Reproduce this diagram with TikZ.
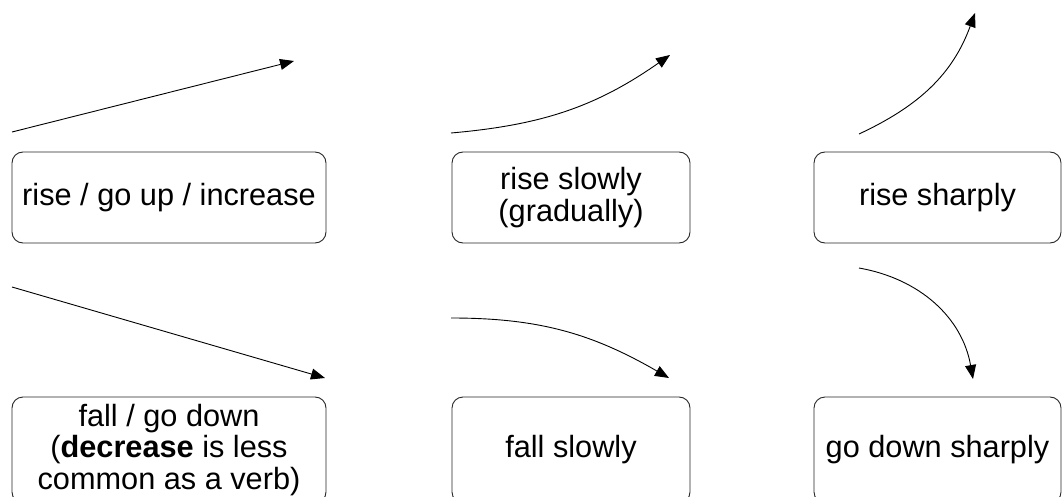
\documentclass[tikz,border=0pt]{standalone}
\usepackage{fontspec}
\setmainfont{Liberation Sans}
\usetikzlibrary{arrows.meta}
\begin{document}
\begin{tikzpicture}[x=1pt,y=-1pt,
  box/.style={draw=black!85, line width=0.9pt, rounded corners=11pt, inner sep=0pt,
    minimum height=#1, align=center, font=\fontsize{30.7}{31.5}\selectfont},
  trend/.style={line width=0.9pt, -{Triangle[length=14pt,width=11pt]}}]
\useasboundingbox (0,0) rectangle (1062,497);
% boxes, top row
\node[box=91pt, minimum width=314pt] (b1) at (169,197.5) {rise / go up / increase};
\node[box=91pt, minimum width=238pt] (b2) at (571,197.5) {rise slowly\\(gradually)};
\node[box=91pt, minimum width=247pt] (b3) at (937.5,197.5) {rise sharply};
% boxes, bottom row
\node[box=106pt, minimum width=314pt] (b4) at (169,450) {fall / go down\\(\textbf{decrease} is less\\common as a verb)};
\node[box=106pt, minimum width=238pt] (b5) at (571,450) {fall slowly};
\node[box=106pt, minimum width=247pt] (b6) at (937.5,450) {go down sharply};
% arrow end points
\coordinate (a1s) at (12,132);  \coordinate (a1e) at (294,61);
\coordinate (a2s) at (451,133); \coordinate (a2e) at (670,55);
\coordinate (a3s) at (859,134); \coordinate (a3e) at (975,13);
\coordinate (a4s) at (12,287);  \coordinate (a4e) at (325,378);
\coordinate (a5s) at (451,318); \coordinate (a5e) at (669,378);
\coordinate (a6s) at (859,268); \coordinate (a6e) at (973,379);
% arrows
\draw[trend] (a1s) -- (a1e);
\draw[trend] (a2s) to[out=5,in=-145] (a2e);
\draw[trend] (a3s) to[out=25,in=-110] (a3e);
\draw[trend] (a4s) -- (a4e);
\draw[trend] (a5s) to[out=0,in=150] (a5e);
\draw[trend] (a6s) to[out=-10,in=100] (a6e);
\end{tikzpicture}
\end{document}
